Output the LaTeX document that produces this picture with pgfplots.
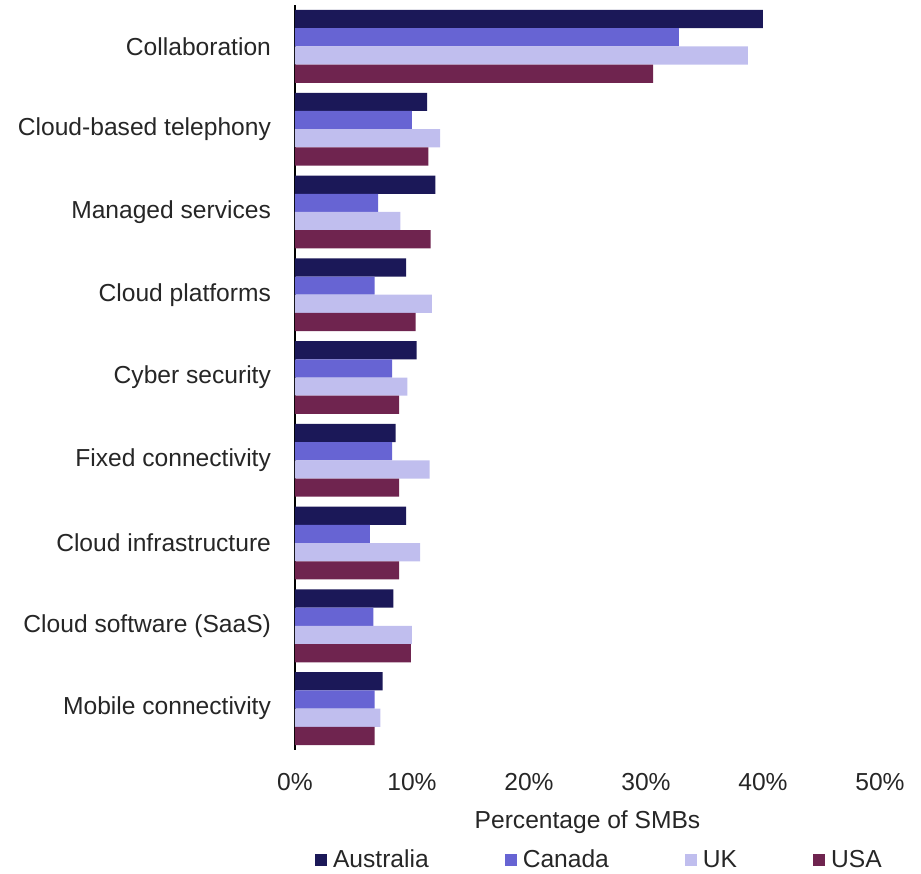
\documentclass[border=0pt]{standalone}
\usepackage{fontspec}
\setmainfont{Liberation Sans}
\usepackage{pgfplots}
\pgfplotsset{compat=1.18}
\definecolor{aus}{HTML}{1B1858}
\definecolor{can}{HTML}{6764D3}
\definecolor{uk}{HTML}{C0BEEE}
\definecolor{usa}{HTML}{6F244F}
\definecolor{txt}{HTML}{262626}

% categories top to bottom: 0 Collaboration ... 8 Mobile connectivity
\pgfplotstableread{
cat aus can uk usa
0 40.0 32.8 38.7 30.6
1 11.3 10.0 12.4 11.4
2 12.0 7.1 9.0 11.6
3 9.5 6.8 11.7 10.3
4 10.4 8.3 9.6 8.9
5 8.6 8.3 11.5 8.9
6 9.5 6.4 10.7 8.9
7 8.4 6.7 10.0 9.9
8 7.5 6.8 7.3 6.8
}\smbdata

\begin{document}
\begin{tikzpicture}[font=\fontsize{12.3pt}{14pt}\selectfont, text=txt]
\path[use as bounding box] (-147.5pt,-61.5pt) rectangle (313pt,375pt);
\begin{axis}[
  width=292.5pt, height=372.5pt, scale only axis,
  xbar, bar width=0.22,
  xmin=0, xmax=50, xtick={0,10,...,50},
  ymin=-0.5, ymax=8.5, y dir=reverse,
  ytick={0,...,8},
  yticklabels={Collaboration,Cloud-based telephony,Managed services,Cloud platforms,Cyber security,Fixed connectivity,Cloud infrastructure,Cloud software (SaaS),Mobile connectivity},
  axis x line*=bottom, x axis line style={draw=none},
  axis y line*=left, y axis line style={black, line width=1.2pt, -},
  major tick length=0pt,
  /pgf/number format/assume math mode=true,
  xticklabel={\pgfmathprintnumber{\tick}\%},
  xticklabel style={yshift=-8pt},
  yticklabel style={xshift=-8.5pt},
  xlabel={Percentage of SMBs},
  x label style={at={(axis description cs:0.5,0)}, anchor=center, yshift=-36pt},
  legend columns=4,
  legend style={at={(0.522,-0.148)}, anchor=center, draw=none, fill=none,
    /tikz/every even column/.append style={column sep=36pt},
    /tikz/every odd column/.append style={column sep=1pt}},
  legend image code/.code={\fill[#1] (0pt,-3pt) rectangle (6pt,3pt);},
]
\addplot[fill=aus, draw=none, bar shift=-0.33] table[x=aus, y=cat] {\smbdata};
\addplot[fill=can, draw=none, bar shift=-0.11] table[x=can, y=cat] {\smbdata};
\addplot[fill=uk, draw=none, bar shift=0.11] table[x=uk, y=cat] {\smbdata};
\addplot[fill=usa, draw=none, bar shift=0.33] table[x=usa, y=cat] {\smbdata};
\legend{Australia,Canada,UK,USA}
\end{axis}
\end{tikzpicture}
\end{document}
